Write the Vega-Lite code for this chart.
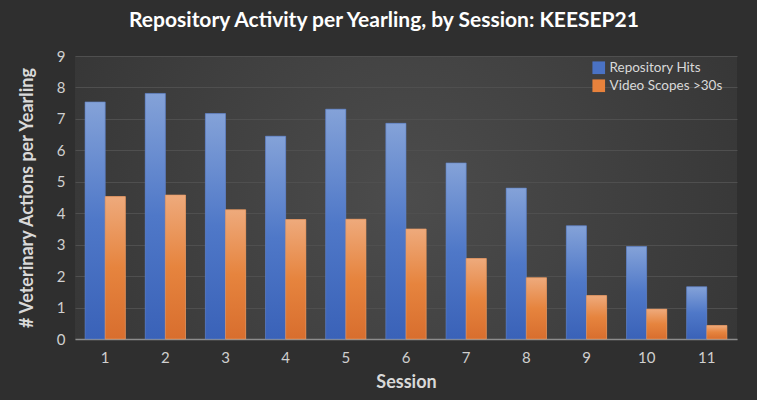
{
  "$schema": "https://vega.github.io/schema/vega-lite/v6.json",
  "width": 662,
  "height": 283,
  "autosize": "none",
  "padding": {"left": 75, "top": 56, "right": 20, "bottom": 61},
  "background": "#2f2f2f",
  "title": {
    "text": "Repository Activity per Yearling, by Session: KEESEP21",
    "font": "Lato",
    "fontSize": 21,
    "fontWeight": "bold",
    "color": "#ffffff",
    "anchor": "middle",
    "offset": 18,
    "dx": -22
  },
  "data": {
    "values": [
      {"session": 1, "series": "Repository Hits", "value": 7.54},
      {"session": 2, "series": "Repository Hits", "value": 7.81},
      {"session": 3, "series": "Repository Hits", "value": 7.17},
      {"session": 4, "series": "Repository Hits", "value": 6.45},
      {"session": 5, "series": "Repository Hits", "value": 7.31},
      {"session": 6, "series": "Repository Hits", "value": 6.86},
      {"session": 7, "series": "Repository Hits", "value": 5.6},
      {"session": 8, "series": "Repository Hits", "value": 4.8},
      {"session": 9, "series": "Repository Hits", "value": 3.6},
      {"session": 10, "series": "Repository Hits", "value": 2.94},
      {"session": 11, "series": "Repository Hits", "value": 1.66},
      {"session": 1, "series": "Video Scopes >30s", "value": 4.53},
      {"session": 2, "series": "Video Scopes >30s", "value": 4.58},
      {"session": 3, "series": "Video Scopes >30s", "value": 4.11},
      {"session": 4, "series": "Video Scopes >30s", "value": 3.8},
      {"session": 5, "series": "Video Scopes >30s", "value": 3.81},
      {"session": 6, "series": "Video Scopes >30s", "value": 3.5},
      {"session": 7, "series": "Video Scopes >30s", "value": 2.56},
      {"session": 8, "series": "Video Scopes >30s", "value": 1.95},
      {"session": 9, "series": "Video Scopes >30s", "value": 1.38},
      {"session": 10, "series": "Video Scopes >30s", "value": 0.95},
      {"session": 11, "series": "Video Scopes >30s", "value": 0.43}
    ]
  },
  "encoding": {
    "x": {
      "field": "session",
      "type": "ordinal",
      "title": "Session",
      "scale": {"paddingInner": 0.33, "paddingOuter": 0.167},
      "axis": {
        "labelAngle": 0,
        "labelPadding": 11,
        "titlePadding": 8,
        "ticks": false,
        "domainColor": "#8c8c8c",
        "domainWidth": 1.5,
        "grid": false
      }
    },
    "xOffset": {"field": "series", "type": "nominal", "scale": {"domain": ["Repository Hits", "Video Scopes >30s"]}},
    "y": {
      "field": "value",
      "type": "quantitative",
      "title": "# Veterinary Actions per Yearling",
      "scale": {"domain": [0, 9], "nice": false},
      "axis": {
        "values": [0, 1, 2, 3, 4, 5, 6, 7, 8, 9],
        "domain": false,
        "ticks": false,
        "labelPadding": 10,
        "titlePadding": 20,
        "gridColor": "#4f4f4f",
        "gridWidth": 1.2
      }
    }
  },
  "layer": [
    {
      "mark": {"type": "bar"},
      "encoding": {
        "color": {
          "field": "series",
          "type": "nominal",
          "title": null,
          "scale": {
            "domain": ["Repository Hits", "Video Scopes >30s"],
            "range": ["#4a72c4", "#e8823c"]
          },
          "legend": {
            "orient": "none",
            "legendX": 517,
            "legendY": 5,
            "symbolType": "square",
            "symbolSize": 160,
            "symbolStrokeWidth": 0,
            "symbolOpacity": 1,
            "labelFontSize": 13.5,
            "labelColor": "#d9d9d9",
            "labelFont": "Lato",
            "rowPadding": 3
          }
        }
      }
    },
    {
      "transform": [{"filter": "datum.series === 'Repository Hits'"}],
      "mark": {
        "type": "bar",
        "stroke": "#5f80c0",
        "strokeWidth": 0.6,
        "color": {"gradient": "linear", "x1": 0, "y1": 0, "x2": 0, "y2": 1, "stops": [{"offset": 0, "color": "#84a2d8"}, {"offset": 0.5, "color": "#4f78c8"}, {"offset": 1, "color": "#3a62b8"}]}
      }
    },
    {
      "transform": [{"filter": "datum.series === 'Video Scopes >30s'"}],
      "mark": {
        "type": "bar",
        "stroke": "#e59a66",
        "strokeWidth": 0.6,
        "color": {"gradient": "linear", "x1": 0, "y1": 0, "x2": 0, "y2": 1, "stops": [{"offset": 0, "color": "#eeaa7c"}, {"offset": 0.5, "color": "#e6843e"}, {"offset": 1, "color": "#d86e2e"}]}
      }
    }
  ],
  "config": {
    "font": "Lato",
    "view": {
      "stroke": null,
      "fill": {"gradient": "radial", "x1": 0.5, "y1": 0.5, "r1": 0, "x2": 0.5, "y2": 0.5, "r2": 0.75, "stops": [{"offset": 0, "color": "#4c4c4c"}, {"offset": 1, "color": "#2f2f2f"}]}
    },
    "axis": {
      "labelFont": "Lato",
      "labelFontSize": 15,
      "labelColor": "#d0d0d0",
      "titleFont": "Lato",
      "titleFontSize": 18,
      "titleFontWeight": "bold",
      "titleColor": "#d9d9d9"
    }
  }
}
